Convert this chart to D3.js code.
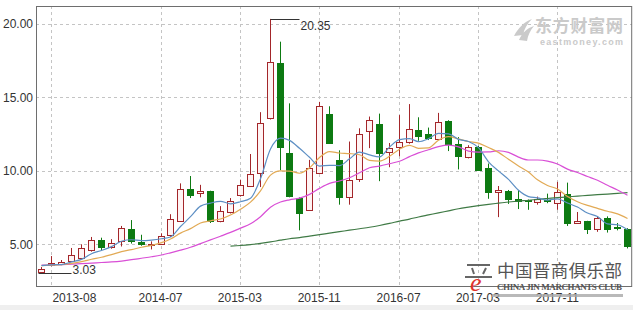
<!DOCTYPE html>
<html>
<head>
<meta charset="UTF-8" />
<script src="https://d3js.org/d3.v7.min.js"></script>
<style>
  body { margin: 0; background: #fff; }
  .axis text { font-family: "Liberation Sans", Arial, sans-serif; font-size: 12px; fill: #333; }
  .grid line { stroke: #c4c4c4; stroke-dasharray: 3,3; shape-rendering: crispEdges; }
</style>
</head>
<body>
<svg id="chart" width="633" height="310"></svg>
<script>
// monthly candles, 2013-07 .. 2018-06
var months = [
  "2013-07","2013-08","2013-09","2013-10","2013-11","2013-12",
  "2014-01","2014-02","2014-03","2014-04","2014-05","2014-06",
  "2014-07","2014-08","2014-09","2014-10","2014-11","2014-12",
  "2015-01","2015-02","2015-03","2015-04","2015-05","2015-06",
  "2015-07","2015-08","2015-09","2015-10","2015-11","2015-12",
  "2016-01","2016-02","2016-03","2016-04","2016-05","2016-06",
  "2016-07","2016-08","2016-09","2016-10","2016-11","2016-12",
  "2017-01","2017-02","2017-03","2017-04","2017-05","2017-06",
  "2017-07","2017-08","2017-09","2017-10","2017-11","2017-12",
  "2018-01","2018-02","2018-03","2018-04","2018-05","2018-06"
];
var openP = [3.15,3.55,3.62,3.85,4.1,4.6,5.3,4.8,5.2,6.05,
  5.15,5.0,5.0,5.6,6.65,8.75,8.47,8.65,6.65,7.2,
  8.4,9.0,9.85,13.6,17.35,11.2,8.15,7.35,9.85,13.9,
  10.75,8.25,9.45,12.7,13.2,11.27,11.6,11.97,12.8,12.5,
  12.2,13.4,11.8,10.97,11.65,10.2,8.55,8.65,8.08,8.0,
  7.9,8.0,7.8,8.45,6.48,6.6,6.02,6.77,6.2,6.05];
var highP = [3.45,4.2,3.93,4.75,5.0,5.5,5.45,5.35,6.25,6.65,
  5.65,5.2,5.75,7.05,9.15,9.65,9.05,8.65,7.6,8.15,
  9.4,11.15,14.0,20.35,18.8,14.6,8.2,10.75,14.7,14.4,
  11.4,12.0,12.9,13.7,13.9,11.9,13.8,14.55,13.65,12.95,
  13.95,13.45,12.3,11.75,11.7,10.5,8.97,8.7,8.7,8.05,
  8.25,8.45,9.25,9.2,7.2,6.6,6.9,6.9,6.45,6.1];
var lowP = [3.03,3.5,3.58,3.8,4.0,4.5,4.55,4.7,4.85,5.05,
  4.9,4.65,4.95,5.5,6.6,8.15,8.2,6.45,6.5,7.1,
  8.25,8.9,8.9,13.5,10.05,8.2,5.95,7.3,9.8,11.9,
  7.7,7.7,9.25,11.55,9.3,10.25,11.0,11.85,12.05,12.1,
  12.15,11.35,10.1,10.85,10.0,8.1,6.85,7.75,7.4,7.35,
  7.7,7.8,7.35,6.25,6.43,5.7,5.85,5.8,5.95,4.72];
var closeP = [3.35,3.72,3.79,4.25,4.75,5.3,4.8,5.1,6.1,5.25,
  4.98,5.02,5.55,6.7,8.8,8.35,8.62,6.6,7.3,7.95,
  9.05,9.8,13.25,17.4,11.65,8.3,7.1,10.2,14.4,11.9,
  8.2,9.4,12.5,13.45,11.2,11.55,11.95,12.85,12.4,12.2,
  13.35,11.8,11.0,11.65,10.1,8.55,8.7,8.1,7.95,7.97,
  8.1,7.93,8.55,6.5,6.6,6.05,6.77,6.03,6.18,4.9];

// moving average lines
var ma5 = [3.55,3.6,3.62,3.8,3.97,4.36,4.58,4.84,5.21,5.31,
  5.25,5.29,5.38,5.5,6.21,6.88,7.6,7.81,7.93,7.76,
  7.9,8.14,9.47,11.49,12.23,12.08,11.54,10.93,10.33,10.38,
  10.36,10.82,11.28,11.09,10.95,11.62,12.13,12.2,11.99,12.19,
  12.55,12.52,12.15,12.0,11.58,10.62,10.0,9.42,8.68,8.25,
  8.16,8.01,8.1,7.81,7.54,7.13,6.89,6.39,6.33,5.99];
var ma10 = [3.55,3.58,3.62,3.7,3.82,3.98,4.12,4.3,4.5,4.64,
  4.8,4.93,5.11,5.36,5.76,6.07,6.45,6.6,6.72,6.99,
  7.39,7.87,8.64,9.71,10.0,9.99,9.84,10.2,10.91,11.31,
  11.22,11.18,11.1,10.71,10.67,10.99,11.48,11.74,11.54,11.57,
  12.09,12.33,12.18,12.0,11.89,11.59,11.26,10.79,10.34,9.92,
  9.39,9.01,8.76,8.25,7.9,7.65,7.45,7.25,7.07,6.76];
var ma20 = [3.58,3.6,3.62,3.65,3.68,3.72,3.76,3.8,3.86,3.95,
  4.05,4.15,4.27,4.42,4.6,4.8,5.05,5.3,5.55,5.81,
  6.1,6.4,6.88,7.53,7.88,8.03,8.14,8.4,8.81,9.15,
  9.31,9.53,9.87,10.21,10.33,10.49,10.66,10.97,11.23,11.44,
  11.65,11.75,11.64,11.35,11.28,11.29,11.37,11.26,10.94,10.74,
  10.74,10.67,10.47,10.12,9.89,9.62,9.36,9.02,8.7,8.34];
var ma60 = [null,null,null,null,null,null,null,null,null,null,
  null,null,null,null,null,null,null,null,null,4.88,
  4.92,4.98,5.06,5.16,5.28,5.38,5.46,5.56,5.66,5.76,
  5.86,5.96,6.06,6.16,6.28,6.42,6.58,6.72,6.86,7.0,
  7.14,7.28,7.42,7.53,7.63,7.72,7.8,7.88,7.95,8.0,
  8.06,8.12,8.18,8.23,8.28,8.33,8.38,8.42,8.47,8.52];

var xTicks = ["2013-08","2014-07","2015-03","2015-11","2016-07","2017-03","2017-11"];
var yTicks = [5, 10, 15, 20];

var svg = d3.select("#chart");
var plotL = 36, plotR = 631.7, plotT = 6, plotB = 286;

var x = d3.scaleBand().domain(months).range([plotL + 0.5, plotR]).paddingInner(0.3).paddingOuter(0.15);
var y = d3.scaleLinear().domain([2.16, 21.23]).range([plotB, plotT]);
var cx = function (m) { return Math.round(x(m) + x.bandwidth() / 2); };

// bottom grey strip
svg.append("rect").attr("x", 0).attr("y", 305).attr("width", 633).attr("height", 5).attr("fill", "#efefef");

// grid
var grid = svg.append("g").attr("class", "grid");
grid.selectAll("line.h").data(yTicks).enter().append("line")
  .attr("x1", plotL).attr("x2", plotR)
  .attr("y1", function (d) { return Math.round(y(d)) + 0.5; })
  .attr("y2", function (d) { return Math.round(y(d)) + 0.5; });
grid.selectAll("line.v").data(xTicks).enter().append("line")
  .attr("x1", function (d) { return cx(d) + 0.5; })
  .attr("x2", function (d) { return cx(d) + 0.5; })
  .attr("y1", plotT).attr("y2", plotB);

// watermark top right
var wm = svg.append("g").attr("fill", "#cacaca");
wm.append("path").attr("d", "M514,36 C518,28 524,22 532,19 C527,24 524,29 523,35 Z M519,40 C522,33 527,28 534,26 C530,31 528,35 527,41 Z");
wm.append("text").attr("x", 535).attr("y", 32).attr("font-family", "'Noto Sans CJK SC'")
  .attr("font-size", 17).attr("font-weight", "bold").attr("textLength", 88).text("东方财富网");
wm.append("text").attr("x", 540).attr("y", 45).attr("font-family", "'Liberation Sans', Arial")
  .attr("font-size", 9).attr("font-weight", "bold").attr("textLength", 83).text("eastmoney.com");

// axes
var yAxis = d3.axisLeft(y).tickValues(yTicks).tickFormat(d3.format(".2f")).tickSize(0).tickPadding(3);
svg.append("g").attr("class", "axis").attr("transform", "translate(" + plotL + ",0)").call(yAxis)
  .call(function (g) { g.select(".domain").remove(); });

var xAxis = d3.axisBottom(x).tickValues(xTicks).tickSize(0).tickPadding(7);
var xg = svg.append("g").attr("class", "axis").attr("transform", "translate(0," + plotB + ")").call(xAxis)
  .call(function (g) { g.select(".domain").remove(); });
xg.select(".tick text").attr("text-anchor", "start").attr("x", 1);

// candles
var up = "#a3262a", down = "#0d7a12";
var candles = svg.append("g").selectAll("g").data(months).enter().append("g");
candles.append("line")
  .attr("x1", function (d) { return cx(d) + 0.5; })
  .attr("x2", function (d) { return cx(d) + 0.5; })
  .attr("y1", function (d, i) { return y(highP[i]); })
  .attr("y2", function (d, i) { return y(lowP[i]); })
  .attr("stroke", function (d, i) { return closeP[i] >= openP[i] ? up : down; });
candles.append("rect")
  .attr("x", function (d) { return cx(d) - 2.5; })
  .attr("width", 6)
  .attr("y", function (d, i) { return Math.round(y(Math.max(openP[i], closeP[i]))) + 0.5; })
  .attr("height", function (d, i) { return Math.max(1, Math.round(Math.abs(y(openP[i]) - y(closeP[i])))); })
  .attr("fill", function (d, i) { return closeP[i] >= openP[i] ? "#fff4f4" : down; })
  .attr("stroke", function (d, i) { return closeP[i] >= openP[i] ? up : down; });

// moving averages
var lineGen = d3.line()
  .defined(function (d) { return d != null; })
  .x(function (d, i) { return cx(months[i]) + 0.5; })
  .y(function (d) { return y(d); })
  .curve(d3.curveMonotoneX);
[[ma60, "#3f7a45"], [ma20, "#d94fd6"], [ma10, "#e2aa55"], [ma5, "#5d8fc4"]].forEach(function (s) {
  svg.append("path").datum(s[0]).attr("d", lineGen).attr("fill", "none")
    .attr("stroke", s[1]).attr("stroke-width", 1.2);
});

// max / min labels
var iMax = d3.maxIndex(highP), iMin = d3.minIndex(lowP);
var mx = cx(months[iMax]) + 0.5, my = Math.round(y(highP[iMax])) + 0.5;
svg.append("line").attr("x1", mx).attr("x2", mx + 29).attr("y1", my).attr("y2", my).attr("stroke", "#333");
svg.append("text").attr("x", mx + 30).attr("y", my + 10)
  .attr("font-family", "'Liberation Sans', Arial").attr("font-size", 12).attr("fill", "#333")
  .text(highP[iMax].toFixed(2));
var nx = cx(months[iMin]) + 0.5, ny = Math.round(y(lowP[iMin])) + 0.5;
svg.append("line").attr("x1", nx - 3).attr("x2", nx + 30).attr("y1", ny).attr("y2", ny).attr("stroke", "#333");
svg.append("text").attr("x", nx + 31).attr("y", ny)
  .attr("font-family", "'Liberation Sans', Arial").attr("font-size", 12).attr("fill", "#333")
  .text(lowP[iMin].toFixed(2));

// plot frame
svg.append("rect").attr("x", plotL + 0.5).attr("y", plotT + 0.5).attr("width", plotR - plotL - 0.5).attr("height", plotB - plotT)
  .attr("fill", "none").attr("stroke", "#6e6e6e");

// watermark bottom right
var wb = svg.append("g");
wb.append("path").attr("d", "M467,265 H490 M472,268 L474,274 M486,268 L483,274 M465,277 H492")
  .attr("stroke", "#666").attr("stroke-width", 2).attr("fill", "none");
wb.append("text").attr("x", 470).attr("y", 291).attr("font-family", "'Liberation Serif'")
  .attr("font-style", "italic").attr("font-size", 26).attr("fill", "#e0342c").text("e");
wb.append("text").attr("x", 497).attr("y", 277).attr("font-family", "'Noto Sans CJK SC'")
  .attr("font-size", 17.5).attr("fill", "#555").attr("textLength", 125).text("中国晋商俱乐部");
wb.append("text").attr("x", 497).attr("y", 290).attr("font-family", "'Liberation Serif'")
  .attr("font-size", 9).attr("font-weight", "bold").attr("fill", "#555").attr("textLength", 125)
  .text("CHINA JIN MARCHANTS CLUB");
wb.append("rect").attr("x", 492).attr("y", 294).attr("width", 131).attr("height", 3)
  .attr("fill", "#a8a8a8").attr("opacity", 0.8);
</script>
</body>
</html>
